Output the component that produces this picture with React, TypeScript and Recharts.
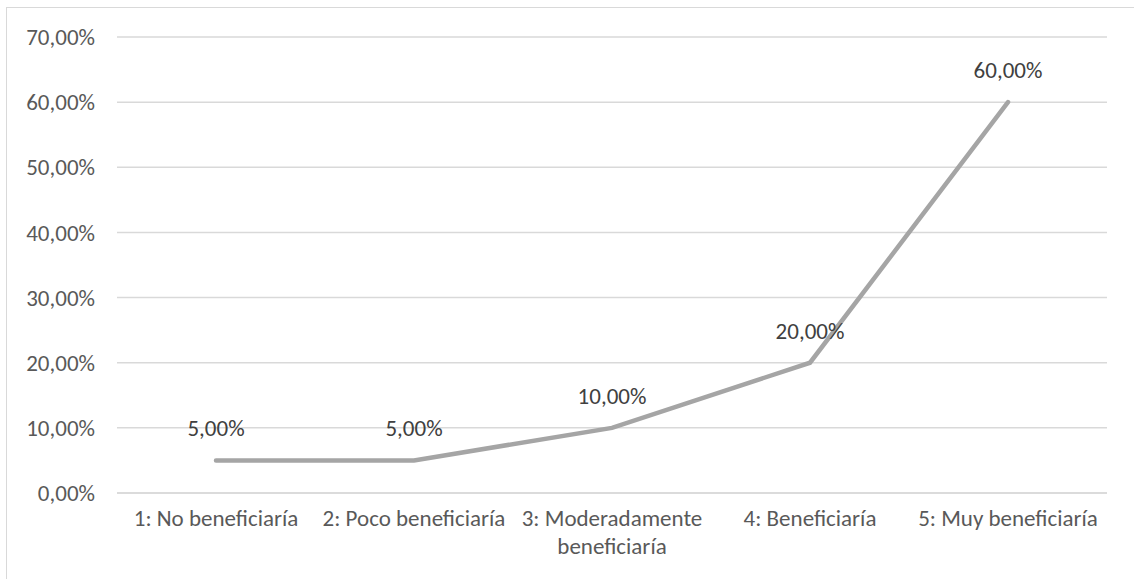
import { LineChart, Line, XAxis, YAxis, CartesianGrid, LabelList, Text } from 'recharts'

const categories = [
  '1: No beneficiaría',
  '2: Poco beneficiaría',
  '3: Moderadamente beneficiaría',
  '4: Beneficiaría',
  '5: Muy beneficiaría',
]
const shares = [5, 5, 10, 20, 60]
const yTicks = [0, 10, 20, 30, 40, 50, 60, 70]

const FONT = 'Carlito, Lato, sans-serif'
const FONT_SIZE = 23

const pct = (v: number) => `${v.toFixed(2).replace('.', ',')}%`

const data = categories.map((name, i) => ({ name, value: shares[i] }))

function CategoryTick(props: any) {
  const { x, y, payload } = props
  return (
    <Text
      x={x}
      y={y}
      width={198}
      textAnchor="middle"
      verticalAnchor="start"
      lineHeight={28}
      fill="#595959"
      fontSize={FONT_SIZE}
      fontFamily={FONT}
    >
      {payload.value}
    </Text>
  )
}

function ValueLabel(props: any) {
  const { x, y, value } = props
  return (
    <text x={x} y={y - 24} textAnchor="middle" fill="#404040" fontSize={FONT_SIZE} fontFamily={FONT}>
      {pct(value)}
    </text>
  )
}

export default function App() {
  return (
    <div style={{ position: 'absolute', left: 0, top: 0, width: 1134, height: 579, overflow: 'hidden', background: '#fff' }}>
      <div
        style={{
          position: 'absolute',
          left: 6,
          top: 7,
          width: 1160,
          height: 600,
          border: '1.5px solid #d9d9d9',
        }}
      />
      <LineChart
        width={1134}
        height={579}
        data={data}
        margin={{ top: 37, right: 27, left: 17, bottom: 0 }}
        style={{ position: 'absolute', left: 0, top: 0 }}
      >
        <CartesianGrid vertical={false} stroke="#d9d9d9" strokeWidth={1.5} />
        <XAxis
          dataKey="name"
          height={86}
          padding={{ left: 99, right: 99 }}
          axisLine={{ stroke: '#d9d9d9', strokeWidth: 1.5 }}
          tickLine={false}
          tickSize={0}
          tickMargin={17}
          interval={0}
          tick={<CategoryTick />}
        />
        <YAxis
          width={100}
          domain={[0, 70]}
          ticks={yTicks}
          axisLine={false}
          tickLine={false}
          tickSize={0}
          tickMargin={22}
          tickFormatter={pct}
          tick={{ fill: '#595959', fontSize: FONT_SIZE, fontFamily: FONT }}
        />
        <Line
          type="linear"
          dataKey="value"
          stroke="#a5a5a5"
          strokeWidth={4.5}
          strokeLinecap="round"
          dot={false}
          activeDot={false}
          isAnimationActive={false}
        >
          <LabelList dataKey="value" content={<ValueLabel />} />
        </Line>
      </LineChart>
    </div>
  )
}
